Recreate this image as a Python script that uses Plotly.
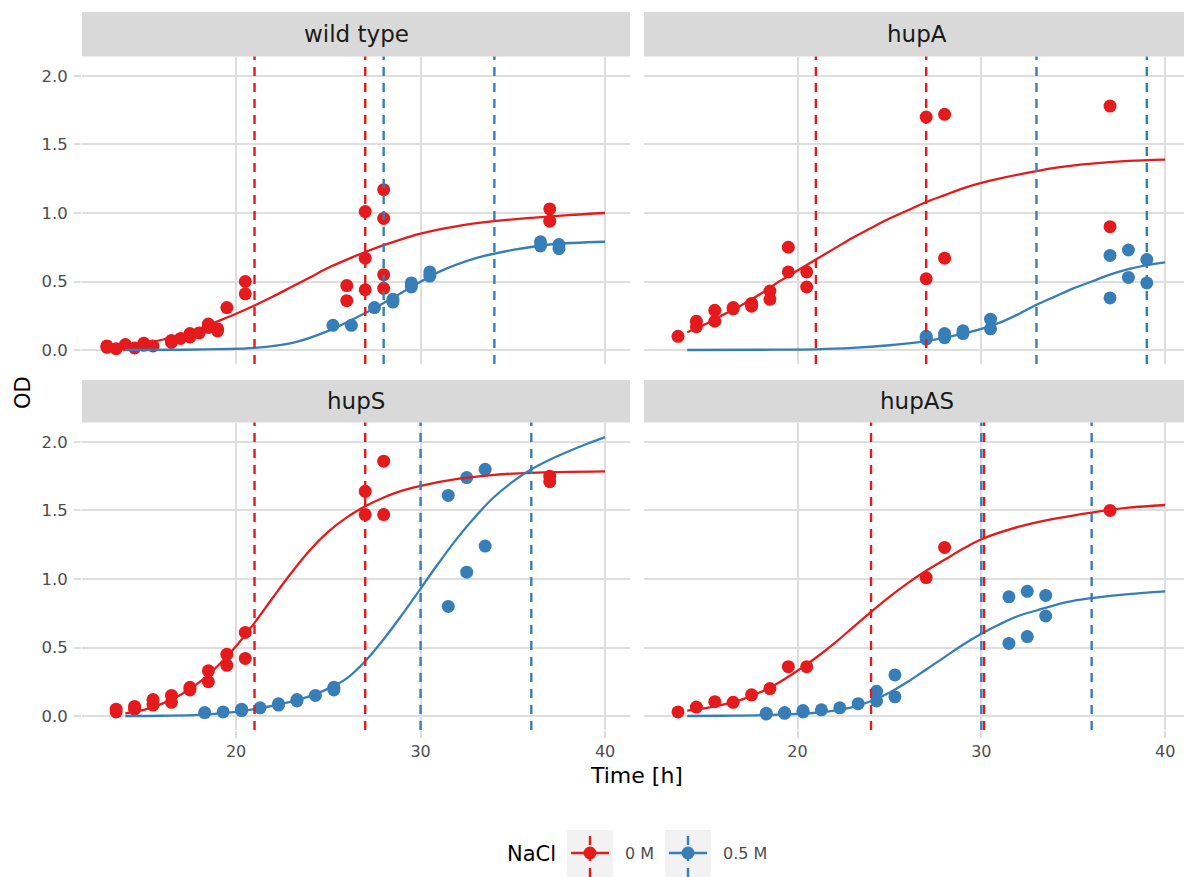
import plotly.graph_objects as go

# ---------------- data ----------------
panels = ["wild type", "hupA", "hupS", "hupAS"]
nacl_levels = ["0 M", "0.5 M"]

# wild type
wt_red_t = [13, 13, 13.5, 14, 14.5, 15, 15, 15.5, 16.5, 16.5, 17, 17.5, 17.5, 18, 18.5, 18.5, 19, 19, 19.5,
            20.5, 20.5, 26, 26, 27, 27, 27, 28, 28, 28, 28, 37, 37]
wt_red_od = [0.03, 0.02, 0.01, 0.04, 0.015, 0.05, 0.035, 0.03, 0.07, 0.055, 0.085, 0.12, 0.095, 0.125, 0.19, 0.165,
             0.155, 0.14, 0.31, 0.50, 0.41, 0.47, 0.36, 1.01, 0.67, 0.44, 1.17, 0.96, 0.55, 0.45, 1.03, 0.94]
wt_blue_t = [25.25, 26.25, 27.5, 28.5, 28.5, 29.5, 29.5, 30.5, 30.5, 36.5, 36.5, 37.5, 37.5]
wt_blue_od = [0.18, 0.18, 0.31, 0.35, 0.37, 0.46, 0.49, 0.54, 0.57, 0.76, 0.79, 0.74, 0.77]

# hupA
hupA_red_t = [13.5, 14.5, 14.5, 15.5, 15.5, 16.5, 16.5, 17.5, 17.5, 18.5, 18.5, 19.5, 19.5, 20.5, 20.5,
              27, 27, 28, 28, 37, 37]
hupA_red_od = [0.10, 0.21, 0.17, 0.29, 0.21, 0.31, 0.30, 0.34, 0.32, 0.43, 0.37, 0.75, 0.57, 0.57, 0.46,
               1.70, 0.52, 1.72, 0.67, 1.78, 0.90]
hupA_blue_t = [27, 27, 28, 28, 29, 29, 30.5, 30.5, 37, 37, 38, 38, 39, 39]
hupA_blue_od = [0.08, 0.10, 0.12, 0.09, 0.14, 0.12, 0.225, 0.155, 0.69, 0.38, 0.73, 0.53, 0.66, 0.49]

# hupS
hupS_red_t = [13.5, 13.5, 14.5, 14.5, 15.5, 15.5, 16.5, 16.5, 17.5, 17.5, 18.5, 18.5, 19.5, 19.5, 20.5, 20.5,
              27, 27, 28, 28, 37, 37]
hupS_red_od = [0.05, 0.03, 0.07, 0.05, 0.12, 0.08, 0.15, 0.10, 0.21, 0.19, 0.33, 0.25, 0.45, 0.37, 0.61, 0.42,
               1.64, 1.47, 1.86, 1.47, 1.75, 1.71]
hupS_blue_t = [18.3, 19.3, 20.3, 20.3, 21.3, 22.3, 22.3, 23.3, 23.3, 24.3, 25.3, 25.3, 31.5, 31.5, 32.5, 32.5,
               33.5, 33.5]
hupS_blue_od = [0.025, 0.03, 0.04, 0.05, 0.06, 0.08, 0.09, 0.11, 0.12, 0.15, 0.21, 0.19, 1.61, 0.80, 1.74, 1.05,
                1.80, 1.24]

# hupAS
hupAS_red_t = [13.5, 14.5, 15.5, 16.5, 17.5, 18.5, 19.5, 20.5, 27, 28, 37]
hupAS_red_od = [0.03, 0.065, 0.105, 0.10, 0.155, 0.20, 0.36, 0.36, 1.01, 1.23, 1.50]
hupAS_blue_t = [18.3, 18.3, 19.3, 19.3, 20.3, 20.3, 21.3, 22.3, 23.3, 24.3, 24.3, 25.3, 25.3, 31.5, 31.5,
                32.5, 32.5, 33.5, 33.5]
hupAS_blue_od = [0.02, 0.015, 0.02, 0.025, 0.03, 0.04, 0.045, 0.06, 0.09, 0.18, 0.11, 0.30, 0.14, 0.87, 0.53,
                 0.91, 0.58, 0.88, 0.73]

# fitted curves
wt_red_fit_t = [14, 15, 16, 17, 18, 19, 20, 21, 22, 23, 24, 25, 26, 27, 28, 29, 30, 32, 34, 36, 38, 40]
wt_red_fit_od = [0.03, 0.05, 0.075, 0.11, 0.155, 0.21, 0.265, 0.325, 0.39, 0.46, 0.53, 0.60, 0.66, 0.715, 0.765,
                 0.81, 0.85, 0.905, 0.94, 0.965, 0.985, 1.00]
wt_blue_fit_t = [14, 17, 19, 21, 23, 25, 27, 29, 31, 33, 35, 37, 40]
wt_blue_fit_od = [0.0, 0.002, 0.006, 0.015, 0.05, 0.14, 0.27, 0.42, 0.57, 0.67, 0.73, 0.77, 0.79]

hupA_red_fit_t = [14, 15, 16, 17, 18, 19, 20, 21, 22, 23, 24, 25, 26, 27, 28, 29, 30, 32, 34, 36, 38, 40]
hupA_red_fit_od = [0.13, 0.19, 0.26, 0.33, 0.41, 0.50, 0.58, 0.66, 0.74, 0.82, 0.89, 0.96, 1.02, 1.08, 1.13,
                   1.18, 1.22, 1.28, 1.33, 1.36, 1.38, 1.39]
hupA_blue_fit_t = [14, 18, 21, 23, 25, 27, 28, 29, 30, 31, 32, 33, 34, 35, 36, 37, 38, 39, 40]
hupA_blue_fit_od = [0.0, 0.002, 0.005, 0.015, 0.035, 0.065, 0.09, 0.12, 0.155, 0.20, 0.26, 0.33, 0.39, 0.45,
                    0.50, 0.55, 0.59, 0.62, 0.64]

hupS_red_fit_t = [14, 15, 16, 17, 18, 19, 20, 21, 22, 23, 24, 25, 26, 27, 28, 29, 30, 32, 34, 36, 40]
hupS_red_fit_od = [0.02, 0.045, 0.09, 0.155, 0.245, 0.365, 0.51, 0.68, 0.865, 1.045, 1.21, 1.345, 1.45, 1.53,
                   1.595, 1.645, 1.68, 1.73, 1.76, 1.775, 1.785]
hupS_blue_fit_t = [14, 16, 18, 20, 21, 22, 23, 24, 25, 26, 27, 28, 29, 30, 31, 32, 33, 34, 35, 36, 37, 38, 39, 40]
hupS_blue_fit_od = [0.0, 0.002, 0.008, 0.03, 0.05, 0.075, 0.105, 0.145, 0.20, 0.275, 0.40, 0.56, 0.74, 0.93,
                    1.12, 1.30, 1.46, 1.60, 1.71, 1.80, 1.87, 1.93, 1.985, 2.035]

hupAS_red_fit_t = [14, 15, 16, 17, 18, 19, 20, 21, 22, 23, 24, 25, 26, 27, 28, 29, 30, 32, 34, 36, 38, 40]
hupAS_red_fit_od = [0.04, 0.058, 0.085, 0.122, 0.175, 0.245, 0.33, 0.425, 0.53, 0.645, 0.76, 0.87, 0.97, 1.06,
                    1.14, 1.22, 1.29, 1.38, 1.44, 1.485, 1.52, 1.54]
hupAS_blue_fit_t = [14, 16, 18, 20, 21, 22, 23, 24, 25, 26, 27, 28, 29, 30, 31, 32, 33, 34, 35, 36, 38, 40]
hupAS_blue_fit_od = [0.0, 0.002, 0.006, 0.015, 0.024, 0.04, 0.065, 0.11, 0.17, 0.25, 0.34, 0.43, 0.52, 0.60,
                     0.67, 0.73, 0.77, 0.81, 0.84, 0.86, 0.89, 0.91]

# vertical reference times
wt_red_v = [21, 27]
wt_blue_v = [28, 34]
hupA_red_v = [21, 27]
hupA_blue_v = [33, 39]
hupS_red_v = [21, 27]
hupS_blue_v = [30, 36]
hupAS_red_v = [24, 30.15]
hupAS_blue_v = [30, 36]

x_ticks = [20, 30, 40]
y_ticks = [0, 0.5, 1.0, 1.5, 2.0]
y_tick_labels = ["0.0", "0.5", "1.0", "1.5", "2.0"]

# ---------------- styling ----------------
RED = "#E41A1C"
BLUE = "#377EB8"
OFF = 8                      # default page margin of the browser
W, H = 1192 - OFF, 877 - OFF
FONT = "DejaVu Sans"


def PX(px):
    return (px - OFF) / W


def PY(py):
    return 1 - (py - OFF) / H


panel_data = [
    (wt_red_t, wt_red_od, wt_blue_t, wt_blue_od, wt_red_fit_t, wt_red_fit_od, wt_blue_fit_t, wt_blue_fit_od,
     wt_red_v, wt_blue_v),
    (hupA_red_t, hupA_red_od, hupA_blue_t, hupA_blue_od, hupA_red_fit_t, hupA_red_fit_od, hupA_blue_fit_t,
     hupA_blue_fit_od, hupA_red_v, hupA_blue_v),
    (hupS_red_t, hupS_red_od, hupS_blue_t, hupS_blue_od, hupS_red_fit_t, hupS_red_fit_od, hupS_blue_fit_t,
     hupS_blue_fit_od, hupS_red_v, hupS_blue_v),
    (hupAS_red_t, hupAS_red_od, hupAS_blue_t, hupAS_blue_od, hupAS_red_fit_t, hupAS_red_fit_od, hupAS_blue_fit_t,
     hupAS_blue_fit_od, hupAS_red_v, hupAS_blue_v),
]

x_domains = [[PX(82), PX(630)], [PX(644), PX(1190)]]
y_domains = [[PY(364), PY(56.5)], [PY(730), PY(422.5)]]
strip_px = [(12, 56.5), (380, 422.5)]

fig = go.Figure()
shapes = []
annotations = []

for i, name in enumerate(panels):
    row, col = divmod(i, 2)
    suffix = "" if i == 0 else str(i + 1)
    xa, ya = "x" + suffix, "y" + suffix
    (rt, rod, bt, bod, rft, rfod, bft, bfod, rv, bv) = panel_data[i]

    fig.add_trace(go.Scatter(x=rt, y=rod, mode="markers", marker=dict(color=RED, size=13),
                             xaxis=xa, yaxis=ya, showlegend=False, hoverinfo="skip"))
    fig.add_trace(go.Scatter(x=bt, y=bod, mode="markers", marker=dict(color=BLUE, size=13),
                             xaxis=xa, yaxis=ya, showlegend=False, hoverinfo="skip"))
    fig.add_trace(go.Scatter(x=rft, y=rfod, mode="lines", line=dict(color=RED, width=2.3, shape="spline"),
                             xaxis=xa, yaxis=ya, showlegend=False, hoverinfo="skip"))
    fig.add_trace(go.Scatter(x=bft, y=bfod, mode="lines", line=dict(color=BLUE, width=2.3, shape="spline"),
                             xaxis=xa, yaxis=ya, showlegend=False, hoverinfo="skip"))

    for v in bv:
        shapes.append(dict(type="line", xref=xa, yref=ya + " domain", x0=v, x1=v, y0=0, y1=1,
                           line=dict(color=BLUE, width=2.4, dash="9px,7px"), layer="above"))
    for v in rv:
        shapes.append(dict(type="line", xref=xa, yref=ya + " domain", x0=v, x1=v, y0=0, y1=1,
                           line=dict(color=RED, width=2.4, dash="9px,7px"), layer="above"))

    bottom = row == 1
    left = col == 0
    xkey = "xaxis" + suffix
    ykey = "yaxis" + suffix
    fig.update_layout({
        xkey: dict(domain=x_domains[col], anchor=ya, range=[11.65, 41.35], tickvals=x_ticks,
                   showgrid=True, gridcolor="#DEDEDE", gridwidth=1.8, zeroline=False, showline=False,
                   showticklabels=bottom, ticks="outside" if bottom else "", ticklen=7, tickwidth=1.8,
                   tickcolor="#DEDEDE", automargin=False,
                   tickfont=dict(family=FONT, size=16, color="#4D4D4D")),
        ykey: dict(domain=y_domains[row], anchor=xa, range=[-0.102, 2.142], tickvals=y_ticks,
                   ticktext=y_tick_labels, showgrid=True, gridcolor="#DEDEDE", gridwidth=1.8,
                   zeroline=False, showline=False, showticklabels=left, automargin=False,
                   ticks="outside" if left else "", ticklen=7, tickwidth=1.8, tickcolor="#DEDEDE",
                   ticklabelstandoff=3,
                   tickfont=dict(family=FONT, size=16.5, color="#4D4D4D")),
    })

    # strip
    sx0, sx1 = x_domains[col]
    st, sb = strip_px[row]
    shapes.append(dict(type="rect", xref="paper", yref="paper", x0=sx0, x1=sx1, y0=PY(sb), y1=PY(st),
                       fillcolor="#D9D9D9", line=dict(width=0), layer="below"))
    annotations.append(dict(text=name, xref="paper", yref="paper", x=(sx0 + sx1) / 2, y=PY((st + sb) / 2),
                            showarrow=False, xanchor="center", yanchor="middle",
                            font=dict(family=FONT, size=23, color="#1A1A1A")))

# axis titles
annotations.append(dict(text="OD", xref="paper", yref="paper", x=PX(23), y=PY(393), textangle=-90,
                        showarrow=False, xanchor="center", yanchor="middle",
                        font=dict(family=FONT, size=21, color="black")))
annotations.append(dict(text="Time [h]", xref="paper", yref="paper", x=PX(636), y=PY(775),
                        showarrow=False, xanchor="center", yanchor="middle",
                        font=dict(family=FONT, size=22, color="black")))

# legend (drawn manually to reproduce the ggplot key)
annotations.append(dict(text="NaCl", xref="paper", yref="paper", x=PX(531), y=PY(854),
                        showarrow=False, xanchor="center", yanchor="middle",
                        font=dict(family=FONT, size=21, color="black")))
legend_keys = [(590, RED, nacl_levels[0], 623), (688, BLUE, nacl_levels[1], 721)]
for cx, colr, lab, lx in legend_keys:
    cy = 853
    shapes.append(dict(type="rect", xref="paper", yref="paper", x0=PX(cx - 23), x1=PX(cx + 23),
                       y0=PY(877), y1=PY(830), fillcolor="#F2F2F2", line=dict(width=0), layer="above"))
    shapes.append(dict(type="line", xref="paper", yref="paper", x0=PX(cx - 19), x1=PX(cx + 19),
                       y0=PY(cy), y1=PY(cy), line=dict(color=colr, width=2.3), layer="above"))
    shapes.append(dict(type="line", xref="paper", yref="paper", x0=PX(cx), x1=PX(cx),
                       y0=PY(877), y1=PY(830), line=dict(color=colr, width=2.4, dash="9px,7px"), layer="above"))
    shapes.append(dict(type="circle", xref="paper", yref="paper", x0=PX(cx - 6.5), x1=PX(cx + 6.5),
                       y0=PY(cy + 6.5), y1=PY(cy - 6.5), fillcolor=colr, line=dict(width=0), layer="above"))
    annotations.append(dict(text=lab, xref="paper", yref="paper", x=PX(lx), y=PY(cy),
                            showarrow=False, xanchor="left", yanchor="middle",
                            font=dict(family=FONT, size=16, color="#4D4D4D")))

fig.update_layout(width=W, height=H, margin=dict(l=0, r=0, t=0, b=0), plot_bgcolor="white",
                  paper_bgcolor="white", shapes=shapes, annotations=annotations, showlegend=False,
                  font=dict(family=FONT))

fig.write_html("out.html")
